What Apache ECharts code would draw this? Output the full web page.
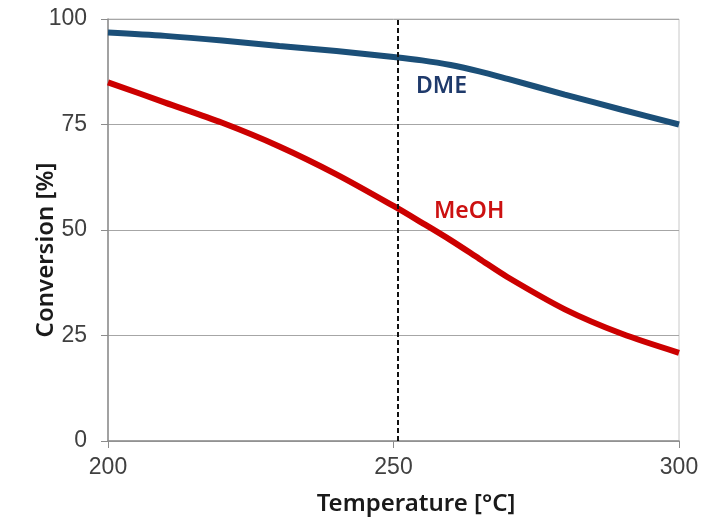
<!DOCTYPE html>
<html>
<head>
<meta charset="utf-8">
<script src="https://cdn.jsdelivr.net/npm/echarts@6/dist/echarts.min.js"></script>
<style>html,body{margin:0;padding:0;background:#fff}#c{width:707px;height:518px}</style>
</head>
<body>
<div id="c"></div>
<script>
const temperatures = [200, 210, 220, 230, 240, 250, 255, 260, 265, 270, 280, 290, 300];
const dmeConversion = [96.8, 96.0, 94.9, 93.6, 92.4, 91.0, 90.2, 89.1, 87.6, 85.8, 82.1, 78.5, 75.0];
const meohConversion = [85.0, 80.2, 75.4, 69.8, 63.2, 55.7, 51.7, 47.6, 43.2, 38.8, 31.2, 25.4, 20.9];
const dashedTemperature = 250.8;
const yTicks = [0, 25, 50, 75, 100];
const xTicks = [200, 250, 300];

const chart = echarts.init(document.getElementById('c'), null, {renderer: 'canvas'});
const pair = (xs, ys) => xs.map((x, i) => [x, ys[i]]);
const tickFont = {fontFamily: 'Liberation Sans, Arial, sans-serif', fontSize: 23, color: '#404040'};
const titleFont = {fontFamily: 'Noto Sans, sans-serif', fontWeight: 600, fontSize: 24, fill: '#1a1a1a'};

chart.setOption({
  animation: false,
  grid: {left: 108, right: 28, top: 19, bottom: 77, show: true, borderColor: '#c8c8c8', borderWidth: 1},
  xAxis: {
    type: 'value', min: xTicks[0], max: xTicks[xTicks.length - 1], interval: 50,
    axisLine: {show: true, lineStyle: {color: '#8c8c8c', width: 1.5}},
    axisTick: {show: true, length: 7, lineStyle: {color: '#8c8c8c'}},
    axisLabel: Object.assign({margin: 15}, tickFont),
    splitLine: {show: false}
  },
  yAxis: {
    type: 'value', min: yTicks[0], max: yTicks[yTicks.length - 1], interval: 25,
    axisLine: {show: true, lineStyle: {color: '#8c8c8c', width: 1.5}},
    axisTick: {show: true, length: 7, lineStyle: {color: '#8c8c8c'}},
    axisLabel: Object.assign({margin: 21}, tickFont),
    splitLine: {show: true, lineStyle: {color: '#a6a6a6', width: 1}}
  },
  series: [
    {
      name: 'DME', type: 'line', data: pair(temperatures, dmeConversion),
      smooth: 0.3, showSymbol: false,
      lineStyle: {color: '#1b4f78', width: 6}, z: 3,
      markLine: {
        silent: true, symbol: 'none', label: {show: false},
        lineStyle: {color: '#111', type: [5, 3], width: 2},
        data: [[{coord: [dashedTemperature, 0]}, {coord: [dashedTemperature, 100]}]]
      }
    },
    {
      name: 'MeOH', type: 'line', data: pair(temperatures, meohConversion),
      smooth: 0.3, showSymbol: false,
      lineStyle: {color: '#cc0000', width: 6}, z: 3
    }
  ],
  graphic: [
    {type: 'text', x: 416, y: 86, style: {text: 'DME', font: '600 23px "Noto Sans", sans-serif', fill: '#1f3a6b', align: 'left', verticalAlign: 'middle'}},
    {type: 'text', x: 434, y: 211, style: {text: 'MeOH', font: '600 23px "Noto Sans", sans-serif', fill: '#cc1111', align: 'left', verticalAlign: 'middle'}},
    {type: 'text', x: 46, y: 250, rotation: Math.PI / 2,
      style: Object.assign({text: 'Conversion [%]', align: 'center', verticalAlign: 'middle'}, titleFont)},
    {type: 'text', x: 416, y: 504,
      style: Object.assign({text: 'Temperature [°C]', align: 'center', verticalAlign: 'middle'}, titleFont)}
  ]
});
</script>
</body>
</html>
